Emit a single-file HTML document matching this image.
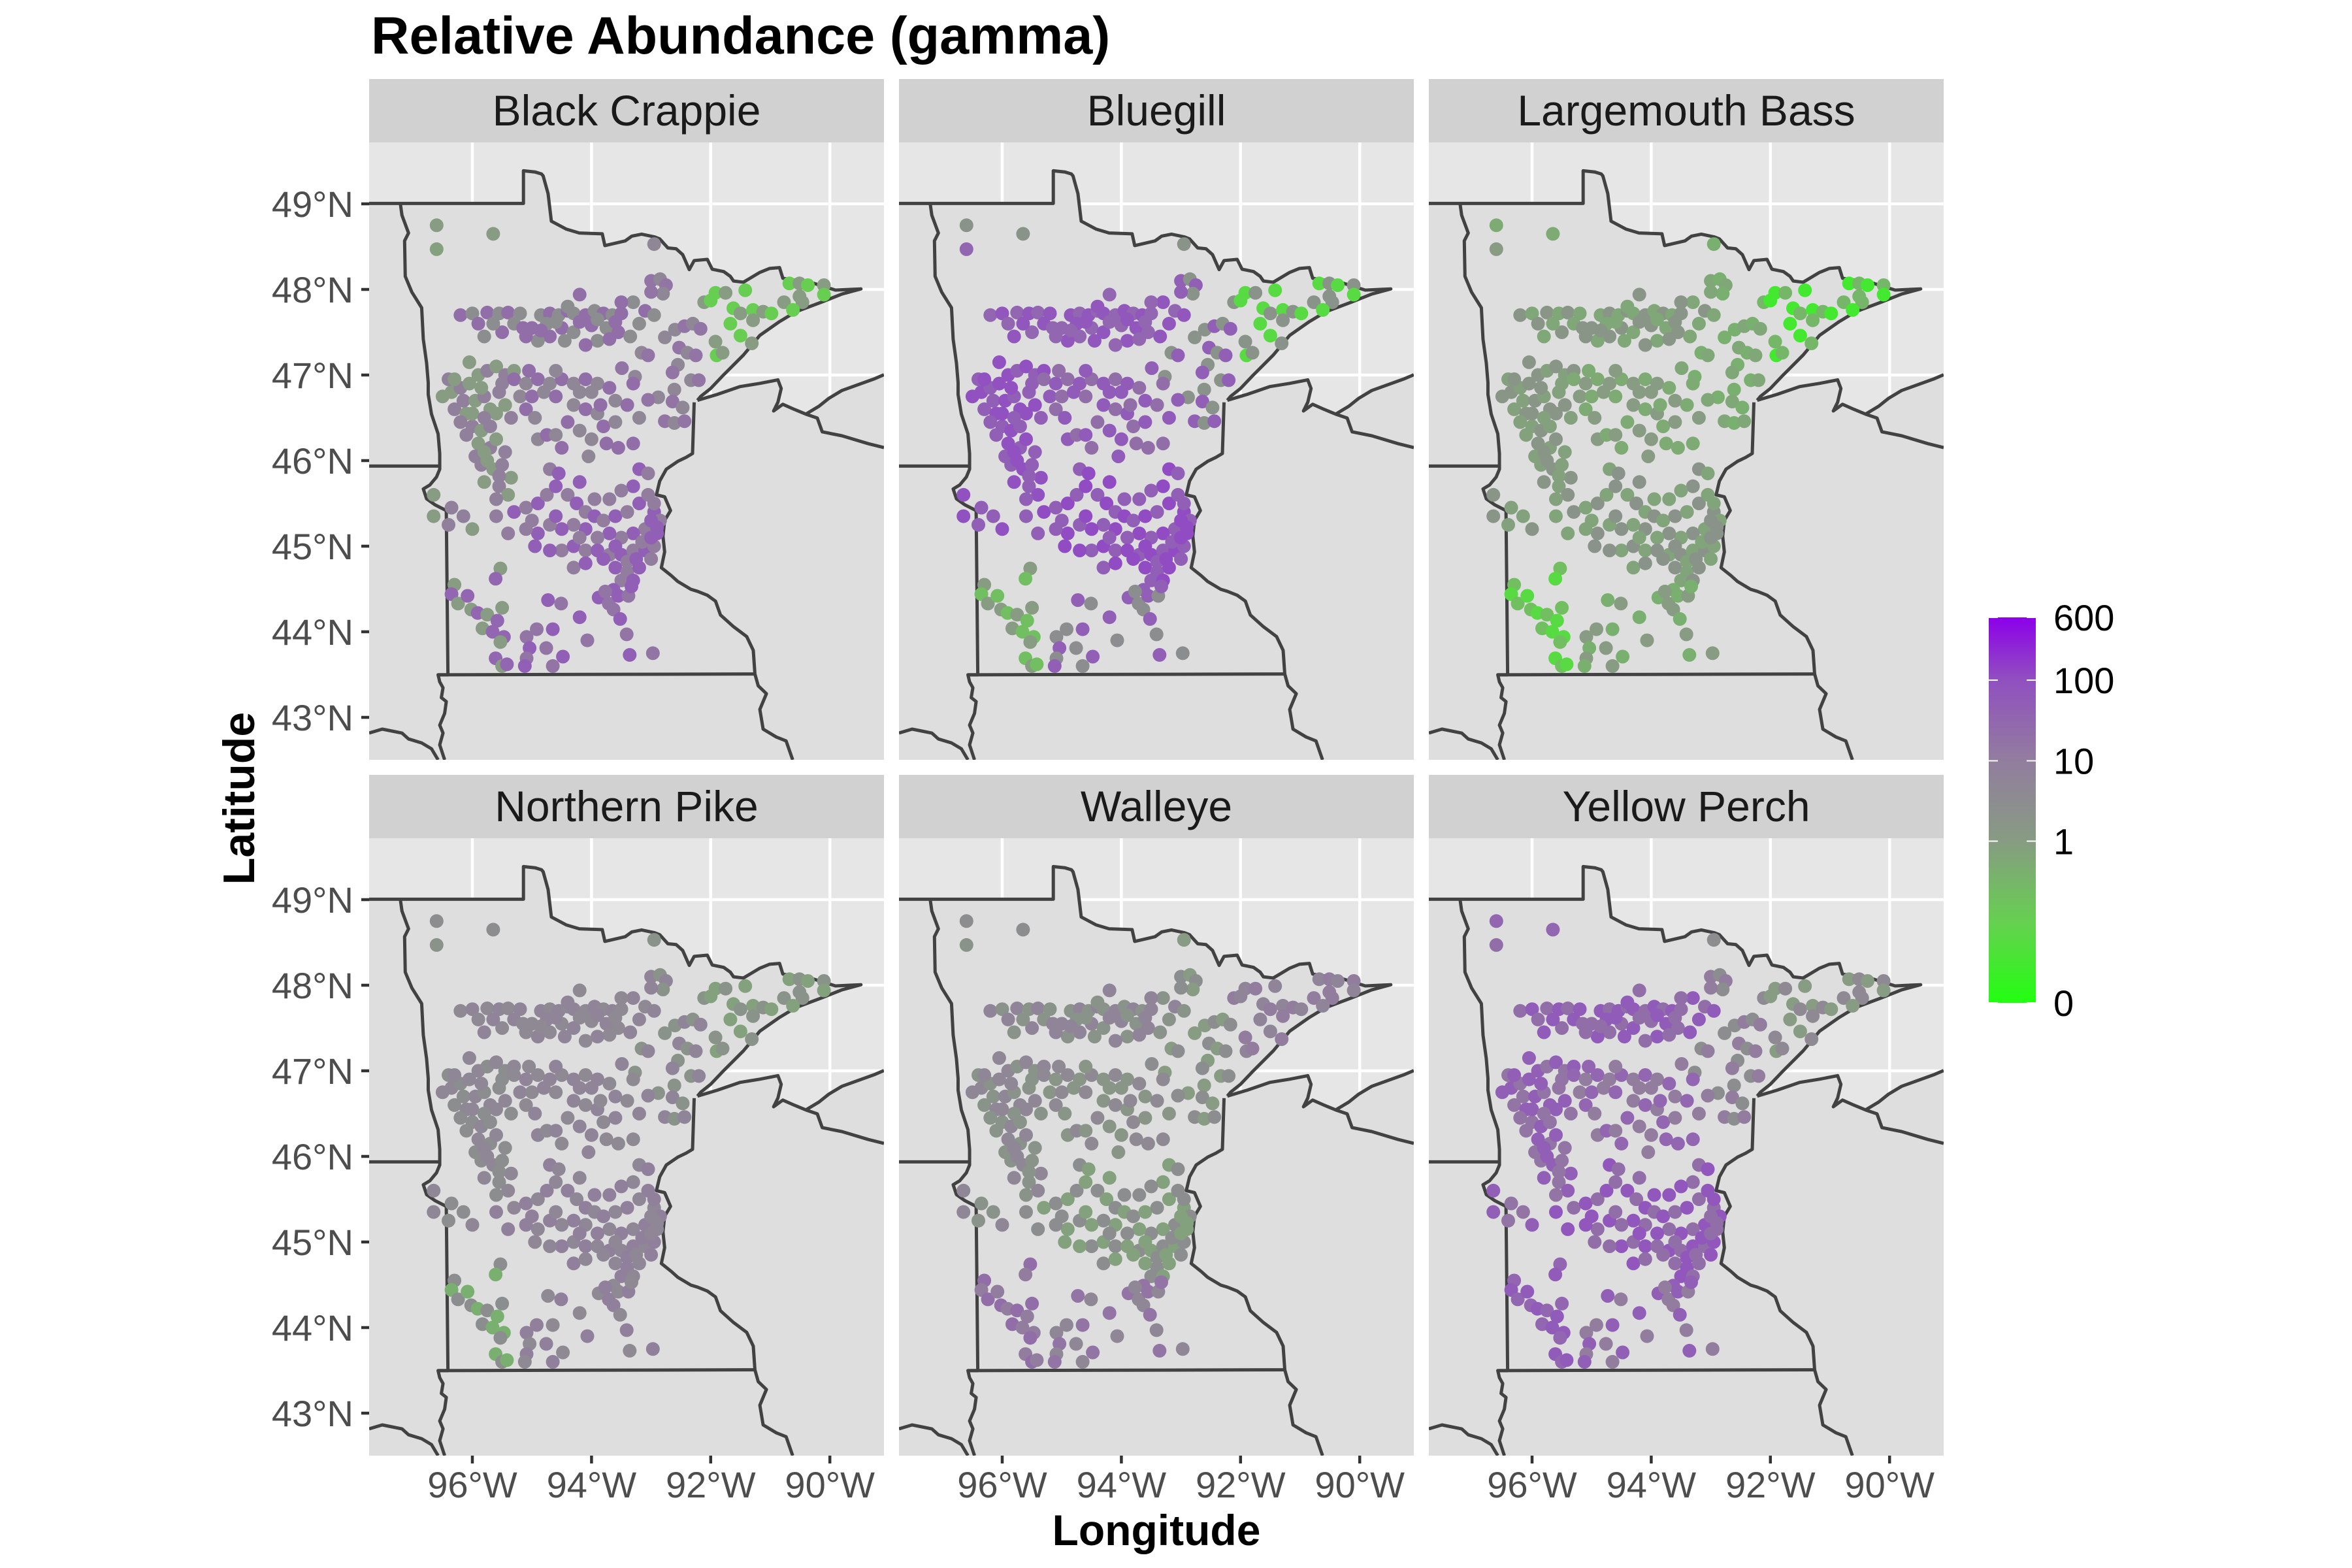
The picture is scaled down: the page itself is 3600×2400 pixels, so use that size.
<!DOCTYPE html>
<html><head><meta charset="utf-8"><title>Relative Abundance (gamma)</title>
<style>
html,body{margin:0;padding:0;background:#fff;}
svg{display:block;}
text{font-family:"Liberation Sans",Arial,sans-serif;}
</style></head>
<body>
<svg id="chart" xmlns="http://www.w3.org/2000/svg" width="3600" height="2400" viewBox="0 0 3600 2400">
<defs>
<linearGradient id="legendGrad" x1="0" y1="0" x2="0" y2="1">
<stop offset="0" stop-color="#8c00ea"/>
<stop offset="0.163" stop-color="#9150c0"/>
<stop offset="0.372" stop-color="#927d9e"/>
<stop offset="0.581" stop-color="#879c82"/>
<stop offset="0.791" stop-color="#66d050"/>
<stop offset="1" stop-color="#22ff10"/>
</linearGradient>
</defs>
<rect width="3600" height="2400" fill="#ffffff"/>
<text x="568" y="82" font-size="81" font-weight="bold" fill="#000">Relative Abundance (gamma)</text>
<text transform="translate(389,1222) rotate(-90)" text-anchor="middle" font-size="68" font-weight="bold" fill="#000">Latitude</text>
<text x="1770" y="2365" text-anchor="middle" font-size="66" font-weight="bold" fill="#000">Longitude</text>
<g id="panels"></g>
<g id="axes"></g>
<g id="legend">
<rect x="3044" y="945" width="72" height="590" fill="url(#legendGrad)"/>
</g>
</svg>
<script>
// ---- data ----
const speciesNames = ["Black Crappie","Bluegill","Largemouth Bass","Northern Pike","Walleye","Yellow Perch"];
const latTicks = [43,44,45,46,47,48,49];
const lonTicks = [-96,-94,-92,-90];
const legendBreaks = [0,1,10,100,600];
const legendLabels = ["0","1","10","100","600"];
// regions: 0 NW outliers,1 north,2 arrowhead NE,3 west arc,4 center,5 south ring,6 SW,7 south-central,8 east-north
const sites = [
[-96.6,48.75,0],[-96.6,48.47,0],[-95.65,48.65,0],
[-92.95,48.53,8],[-93.0,48.1,8],[-92.85,48.12,8],[-92.75,48.05,8],[-92.8,47.95,8],[-93.0,47.97,8],
[-92.11,47.85,2],[-91.92,47.96,2],[-91.75,47.96,2],[-91.62,47.78,2],[-91.5,47.72,2],[-91.29,47.76,2],[-91.12,47.74,2],[-90.98,47.72,2],[-91.29,47.64,2],[-91.5,47.46,2],[-91.31,47.37,2],[-91.67,47.6,2],[-91.92,47.39,2],[-91.9,47.23,2],[-91.8,47.26,2],[-91.42,47.99,2],[-90.77,47.85,2],[-90.68,48.07,2],[-90.51,48.07,2],[-90.37,48.05,2],[-90.1,48.05,2],[-90.1,47.94,2],[-90.46,47.85,2],[-90.62,47.76,2],[-90.51,47.92,2],[-92.0,47.87,2],
[-92.6,47.53,8],[-92.44,47.57,8],[-92.3,47.6,8],[-92.17,47.54,8],[-92.77,47.44,8],[-92.53,47.32,8],[-92.39,47.26,8],[-92.25,47.23,8],[-92.55,47.12,8],[-92.64,47.03,8],[-92.33,46.94,8],[-92.2,46.94,8],[-92.61,46.83,8],[-92.64,46.69,8],[-92.47,46.62,8],[-92.77,46.46,8],[-92.61,46.44,8],[-92.44,46.46,8],[-92.88,46.74,8],[-93.05,46.71,8],[-93.16,47.26,8],[-93.05,47.23,8],[-93.27,46.98,8],[-93.49,47.08,8],
[-96.2,47.7,1],[-96.0,47.72,1],[-95.75,47.73,1],[-95.55,47.72,1],[-95.4,47.73,1],[-95.2,47.72,1],[-95.5,47.5,1],[-95.8,47.45,1],[-95.9,47.6,1],[-95.3,47.6,1],[-95.0,47.55,1],[-94.85,47.7,1],[-94.7,47.72,1],[-94.55,47.7,1],[-94.4,47.75,1],[-94.3,47.72,1],[-94.1,47.7,1],[-93.95,47.75,1],[-93.8,47.72,1],[-93.65,47.7,1],[-93.5,47.72,1],[-93.3,47.85,1],[-93.1,47.75,1],[-92.95,47.7,1],[-94.5,47.55,1],[-94.3,47.5,1],[-94.0,47.58,1],[-93.75,47.55,1],[-93.55,47.5,1],[-93.35,47.45,1],[-94.7,47.45,1],[-94.9,47.4,1],[-94.2,47.94,1],[-94.4,47.8,1],[-93.5,47.85,1],[-94.75,47.6,1],[-95.1,47.45,1],[-93.9,47.4,1],[-94.1,47.35,1],
[-95.65,47.6,1],[-95.15,47.55,1],[-94.6,47.62,1],[-94.2,47.62,1],[-93.9,47.65,1],[-93.6,47.62,1],[-93.2,47.6,1],[-94.85,47.52,1],[-94.45,47.4,1],[-93.7,47.42,1],
[-96.35,46.8,3],[-96.2,46.85,3],[-96.05,46.9,3],[-96.3,46.6,3],[-96.1,46.55,3],[-96.15,46.7,3],[-95.95,46.7,3],[-95.8,46.75,3],[-95.9,47.0,3],[-95.75,47.05,3],[-95.6,47.1,3],[-95.45,47.0,3],[-95.3,47.05,3],[-96.0,46.4,3],[-95.85,46.35,3],[-95.7,46.4,3],[-95.9,46.2,3],[-95.7,46.15,3],[-95.6,46.25,3],[-95.85,45.95,3],[-95.65,45.9,3],[-95.5,45.95,3],[-95.8,45.75,3],[-95.55,45.7,3],[-95.35,45.8,3],[-95.45,46.1,3],[-95.6,46.55,3],[-95.55,46.8,3],[-96.05,47.15,3],[-95.35,46.5,3],[-96.5,46.75,3],[-96.4,46.95,3],[-95.7,46.6,3],[-95.95,46.05,3],[-95.4,45.6,3],[-95.6,45.55,3],
[-96.65,45.6,3],[-96.35,45.45,3],[-96.65,45.35,3],[-96.15,45.35,3],[-96.0,45.2,3],[-96.4,45.25,3],[-96.3,46.95,3],
[-96.2,46.45,3],[-96.0,46.55,3],[-95.8,46.5,3],[-95.85,46.85,3],[-95.5,46.9,3],[-95.75,46.0,3],[-95.55,45.82,3],[-95.8,46.1,3],[-96.1,46.3,3],[-95.45,46.65,3],
[-95.3,46.95,4],[-95.1,46.9,4],[-94.9,46.95,4],[-94.7,46.9,4],[-94.5,46.95,4],[-94.3,46.9,4],[-94.1,46.95,4],[-95.2,46.75,4],[-95.0,46.75,4],[-94.8,46.8,4],[-94.6,46.75,4],[-93.9,46.9,4],[-93.7,46.85,4],[-93.6,46.7,4],[-93.4,46.65,4],[-94.3,46.65,4],[-94.1,46.6,4],[-93.9,46.55,4],[-94.4,46.45,4],[-94.2,46.35,4],[-93.8,46.4,4],[-93.6,46.45,4],[-93.75,46.2,4],[-94.0,46.25,4],[-93.55,46.15,4],[-94.9,46.25,4],[-94.75,46.3,4],[-94.6,46.3,4],[-94.5,46.15,4],[-94.05,46.05,4],[-95.1,46.6,4],[-94.95,46.5,4],[-93.3,46.9,4],[-93.2,46.5,4],[-93.3,46.2,4],
[-94.0,46.8,4],[-93.85,46.65,4],[-94.2,46.8,4],[-95.05,47.05,4],[-94.6,47.05,4],
[-95.6,45.35,5],[-95.3,45.4,5],[-95.1,45.45,5],[-94.9,45.5,5],[-94.75,45.6,5],[-94.6,45.7,5],[-94.7,45.9,5],[-94.55,45.85,5],[-94.4,45.6,5],[-94.25,45.5,5],[-94.1,45.4,5],[-93.95,45.35,5],[-93.8,45.3,5],[-93.6,45.35,5],[-93.4,45.4,5],[-93.2,45.5,5],[-93.05,45.6,5],[-93.3,45.7,5],[-93.5,45.65,5],[-93.2,45.9,5],[-93.05,45.85,5],[-92.95,45.4,5],[-92.85,45.3,5],[-92.9,45.15,5],[-93.1,45.2,5],[-93.3,45.15,5],[-93.5,45.1,5],[-93.7,45.15,5],[-93.9,45.1,5],[-94.1,45.2,5],[-94.3,45.25,5],[-94.5,45.2,5],[-94.7,45.25,5],[-94.9,45.15,5],[-95.1,45.2,5],[-94.95,45.0,5],[-94.5,44.95,5],[-94.3,45.0,5],[-94.1,44.95,5],[-93.9,44.95,5],[-93.7,44.9,5],[-93.5,44.9,5],[-93.3,44.95,5],[-93.1,44.95,5],[-92.95,45.0,5],[-93.6,44.75,5],[-93.4,44.7,5],[-93.2,44.75,5],[-93.5,44.6,5],[-93.3,44.6,5],[-94.3,44.75,5],[-94.1,44.8,5],[-93.95,45.55,5],[-94.2,45.75,5],[-93.7,45.55,5],[-93.0,45.3,5],[-95.4,45.15,5],[-94.7,44.95,5],
[-93.15,45.05,5],[-93.0,45.1,5],[-93.4,44.82,5],[-93.25,44.85,5],[-92.95,45.5,5],[-93.6,45.0,5],[-94.2,45.1,5],[-94.6,45.35,5],[-95.0,45.3,5],[-93.8,44.85,5],[-93.0,44.85,5],[-92.9,45.22,5],
[-96.3,44.55,6],[-96.35,44.44,6],[-96.24,44.33,6],[-96.08,44.42,6],[-96.02,44.26,6],[-95.91,44.22,6],[-95.75,44.2,6],[-95.58,44.13,6],[-95.83,44.04,6],[-95.66,44.0,6],[-95.53,44.74,6],[-95.61,44.62,6],[-95.5,44.28,6],[-95.47,43.94,6],[-95.53,43.88,6],[-95.61,43.69,6],[-95.5,43.6,6],[-95.42,43.62,6],
[-95.09,43.94,7],[-95.04,43.81,7],[-95.09,43.69,7],[-95.12,43.6,7],[-94.92,44.03,7],[-94.73,44.37,7],[-94.76,43.81,7],[-94.65,44.03,7],[-94.65,43.6,7],[-94.48,43.71,7],[-94.51,44.33,7],[-94.2,44.17,7],[-94.07,43.9,7],[-93.88,44.4,7],[-93.71,44.33,7],[-93.55,44.42,7],[-93.38,44.42,7],[-93.33,44.53,7],[-93.63,44.26,7],[-93.52,44.15,7],[-93.41,43.97,7],[-93.36,43.73,7],[-92.97,43.75,7],[-93.63,44.49,7],[-93.77,44.47,7]
];
// per-region value pairs [even-site value, odd-site value], regions 0..8
const valsBlackCrappie   = [[1,0.8],[3,20],[0.1,1],[1,8],[5,20],[40,10],[30,1],[40,15],[15,5]];
const valsBluegill       = [[2,30],[60,30],[0.05,2],[80,40],[50,20],[100,40],[0.2,1],[40,3],[40,2]];
const valsLargemouthBass = [[0.5,1],[0.6,1.5],[0.02,0.3],[1.5,0.8],[1,0.5],[2,0.7],[0.05,0.2],[0.4,1],[0.6,0.4]];
const valsNorthernPike   = [[3,2],[6,4],[0.8,2],[5,3],[6,4],[5,8],[0.4,3],[4,8],[6,2]];
const valsWalleye        = [[3,2],[2,6],[6,10],[5,2],[1.5,4],[0.8,3],[10,20],[15,5],[3,1]];
const valsYellowPerch    = [[30,20],[50,20],[1,4],[40,15],[10,30],[20,60],[50,30],[40,10],[10,3]];
const speciesVals = [valsBlackCrappie,valsBluegill,valsLargemouthBass,valsNorthernPike,valsWalleye,valsYellowPerch];

// ---- layout ----
const NS = "http://www.w3.org/2000/svg";
const colX = [565,1376,2187], rowY = [218,1283], PW = 788, PH = 945, STRIP = 97;
const LON0 = -96, X96 = 158, PXLON = 91.2;
const LAT0 = 49, Y49 = 94, PXLAT = 131;
function xScale(lon){ return X96 + (lon - LON0) * PXLON; }
function yScale(lat){ return Y49 + (LAT0 - lat) * PXLAT; }
function fval(v){ return Math.log10(v + 0.01); }
const stopsF = [-2,-1,0,1,2,2.778];
const stopsC = [[0x22,0xff,0x10],[0x66,0xd0,0x50],[0x87,0x9c,0x82],[0x92,0x7d,0x9e],[0x91,0x4c,0xc4],[0x8c,0x00,0xea]];
function colorOf(v){
  let f = Math.max(-2, Math.min(2.778, fval(v)));
  let i = 0; while (i < stopsF.length - 2 && f > stopsF[i+1]) i++;
  const t = (f - stopsF[i]) / (stopsF[i+1] - stopsF[i]);
  const c = stopsC[i].map((a,k)=>Math.round(a + (stopsC[i+1][k]-a)*t));
  return "rgb(" + c.join(",") + ")";
}
function el(tag, attrs, parent){
  const e = document.createElementNS(NS, tag);
  for (const k in attrs) e.setAttribute(k, attrs[k]);
  if (parent) parent.appendChild(e);
  return e;
}
const landD = "M0,155 L470,155 L470,72 L505,75 L525,80 L530,85 L545,130 L555,200 L600,220 L640,230 L710,232 L718,262 L780,250 L800,238 L830,233 L870,240 L885,245 L910,268 L935,270 L955,285 L975,323 L990,300 L1030,297 L1045,322 L1080,328 L1100,340 L1110,352 L1140,355 L1190,330 L1220,320 L1250,318 L1260,345 L1300,350 L1355,358 L1420,375 L1498,372 L1440,385 L1380,405 L1300,430 L1250,455 L1190,490 L1140,540 L1080,590 L1040,625 L1010,645 L1000,655 L1060,640 L1130,620 L1190,612 L1245,603 L1255,625 L1245,660 L1232,682 L1260,665 L1295,678 L1330,690 L1370,670 L1400,650 L1440,630 L1540,600 L1568,590 L1568,1568 L0,1568 Z";
const borderPaths = [
 "M0,155 L470,155 L470,72 L505,75 L525,80 L530,85 L545,130 L555,200 L600,220 L640,230 L710,232 L718,262 L780,250 L800,238 L830,233 L870,240 L885,245 L910,268 L935,270 L955,285 L975,323 L990,300 L1030,297 L1045,322 L1080,328 L1100,340 L1110,352 L1140,355 L1190,330 L1220,320 L1250,318 L1260,345 L1300,350 L1355,358 L1420,375 L1498,372 L1440,385 L1380,405 L1300,430 L1250,455 L1190,490 L1140,540 L1080,590 L1040,625 L1010,645 L1000,655",
 "M990,660 L985,790 L965,800 L940,810 L905,830 L885,860 L875,895 L900,900 L918,935 L900,960 L895,1000 L900,1040 L890,1080 L920,1100 L940,1115 L980,1135 L1000,1140 L1030,1150 L1055,1165 L1070,1200 L1110,1230 L1150,1255 L1170,1290 L1175,1350 L1185,1380 L1210,1400 L1190,1440 L1200,1490 L1240,1510 L1270,1520 L1290,1568",
 "M210,1352 L1175,1350",
 "M95,155 L100,185 L120,230 L108,250 L110,340 L130,380 L160,420 L165,500 L175,560 L180,610 L180,640 L190,690 L210,740 L215,790 L215,830 L205,850 L185,870 L165,880 L175,905 L200,920 L235,935 L240,1352 L210,1352 L215,1370 L225,1385 L220,1410 L235,1420 L230,1450 L215,1480 L225,1500 L215,1530 L230,1568",
 "M0,822 L215,822",
 "M0,1500 L40,1490 L70,1495 L100,1500 L120,1515 L160,1525 L190,1540 L210,1568",
 "M1000,655 L1060,640 L1130,620 L1190,612 L1245,603 L1255,625 L1245,660 L1232,682 L1260,665 L1295,678 L1330,690 L1365,700 L1380,735 L1440,745 L1520,765 L1568,775",
 "M1330,690 L1370,670 L1400,650 L1440,630 L1540,600 L1568,590"
];
const panelsG = document.getElementById("panels");
speciesNames.forEach((name, si) => {
  const ox = colX[si % 3], oy = rowY[Math.floor(si / 3)];
  const slug = name.toLowerCase().replace(/ /g, "-");
  const g = el("g", {transform: "translate(" + ox + "," + oy + ")"}, panelsG);
  
  
  const strip = el("rect", {x:0, y:-STRIP, width:PW, height:STRIP, fill:"#d1d1d1"}, g);
  
  
  const st = el("text", {x:PW/2, y:-26, "text-anchor":"middle", "font-size":66, fill:"#1a1a1a"}, g);
  st.textContent = name;
  
  
  const cp = el("clipPath", {id: "clip" + si}, g);
  el("rect", {x:0, y:0, width:PW, height:PH}, cp);
  const inner = el("g", {"clip-path": "url(#clip" + si + ")"}, g);
  const bg = el("rect", {x:0, y:0, width:PW, height:PH, fill:"#e6e6e6"}, inner);
  
  
  lonTicks.forEach(l => {
    const ln = el("line", {x1:xScale(l), x2:xScale(l), y1:0, y2:PH, stroke:"#fff", "stroke-width":4.5}, inner);
    
    
  });
  latTicks.forEach(l => {
    const ln = el("line", {x1:0, x2:PW, y1:yScale(l), y2:yScale(l), stroke:"#fff", "stroke-width":4.5}, inner);
    
    
  });
  const mapG = el("g", {transform:"scale(0.50255,0.60268)"}, inner);
  
  
  el("path", {d: landD, fill:"#dedede", stroke:"none"}, mapG);
  borderPaths.forEach(d => {
    const p = el("path", {d: d, fill:"none", stroke:"#424242", "stroke-width":5, "stroke-linejoin":"round", "vector-effect":"non-scaling-stroke"}, mapG);
    
    
  });
  const vals = speciesVals[si];
  const ptsG = el("g", {}, inner);
  
  
  sites.forEach((s, i) => {
    const v = vals[s[2]][i % 2];
    const c = el("circle", {cx: xScale(s[0]).toFixed(1), cy: yScale(s[1]).toFixed(1), r: 10.5, fill: colorOf(v)}, ptsG);
    
    
  });
});
// axes
const axesG = document.getElementById("axes");
rowY.forEach(oy => {
  latTicks.forEach(l => {
    const y = oy + yScale(l);
    const t = el("line", {x1:553, x2:565, y1:y, y2:y, stroke:"#333", "stroke-width":4.5}, axesG);
    
    
    const tx = el("text", {x:541, y:y+20, "text-anchor":"end", "font-size":56, fill:"#4d4d4d"}, axesG);
    tx.textContent = l + "°N";
    
    
  });
});
colX.forEach(ox => {
  lonTicks.forEach(l => {
    const x = ox + xScale(l);
    const t = el("line", {x1:x, x2:x, y1:2228, y2:2240, stroke:"#333", "stroke-width":4.5}, axesG);
    
    
    const tx = el("text", {x:x, y:2292, "text-anchor":"middle", "font-size":56, fill:"#4d4d4d"}, axesG);
    tx.textContent = Math.abs(l) + "°W";
    
    
  });
});
// legend
const legendG = document.getElementById("legend");
const LTOP = 945, LBOT = 1535, FMIN = -2, FMAX = 2.778;
function legY(v){ return LBOT - (fval(v) - FMIN) / (FMAX - FMIN) * (LBOT - LTOP); }
legendBreaks.forEach((b, i) => {
  const y = legY(b);
  const t1 = el("line", {x1:3044, x2:3058, y1:y, y2:y, stroke:"#fff", "stroke-width":2}, legendG);
  
  
  const t2 = el("line", {x1:3102, x2:3116, y1:y, y2:y, stroke:"#fff", "stroke-width":2}, legendG);
  
  
  const tx = el("text", {x:3143, y:y+20, "font-size":56, fill:"#000"}, legendG);
  tx.textContent = legendLabels[i];
  
  
});
</script>
</body></html>
